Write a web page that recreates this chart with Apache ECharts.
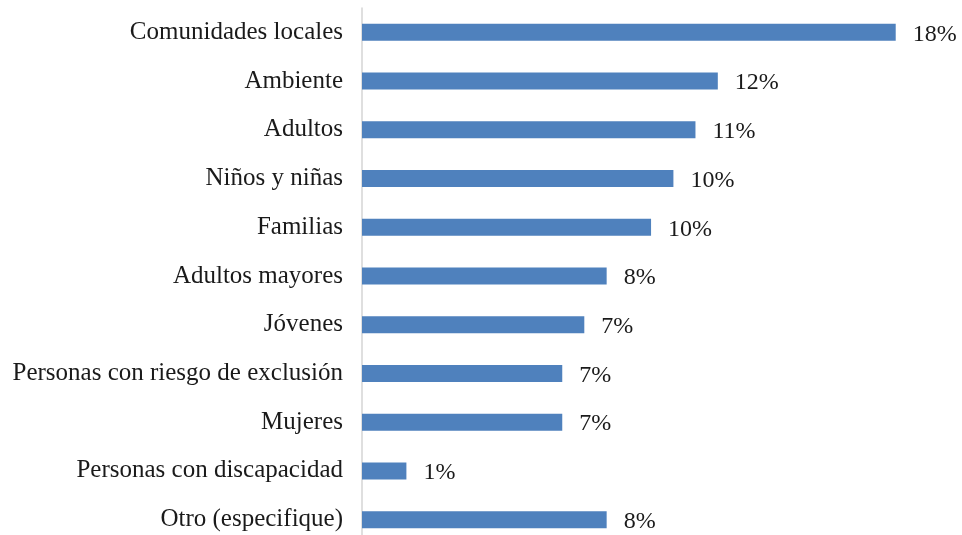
<!DOCTYPE html>
<html>
<head>
<meta charset="utf-8">
<script src="https://cdn.jsdelivr.net/npm/echarts@6/dist/echarts.min.js"></script>
<style>
  html, body { margin: 0; padding: 0; background: #ffffff; overflow: hidden; }
  /* The drawing runs a few pixels past the bottom of the window */
  #chart { width: 962px; height: 544px; }
</style>
</head>
<body>
<div id="chart"></div>
<script>
// Beneficiary groups, top to bottom
const categories = [
  'Comunidades locales',
  'Ambiente',
  'Adultos',
  'Niños y niñas',
  'Familias',
  'Adultos mayores',
  'Jóvenes',
  'Personas con riesgo de exclusión',
  'Mujeres',
  'Personas con discapacidad',
  'Otro (especifique)'
];

// Share of responses, in percent
const shares = [17.91, 11.94, 11.19, 10.45, 9.70, 8.21, 7.46, 6.72, 6.72, 1.49, 8.21];

// Value axis range, in percent
const axisMin = 0;
const axisMax = 20;

const chart = echarts.init(document.getElementById('chart'), null, { renderer: 'canvas' });

const serif = '"Liberation Serif", "DejaVu Serif", serif';

chart.setOption({
  animation: false,
  backgroundColor: '#ffffff',
  grid: {
    left: 362,
    right: 4,
    top: 8,
    bottom: 0,
    containLabel: false
  },
  xAxis: {
    type: 'value',
    min: axisMin,
    max: axisMax,
    show: false
  },
  yAxis: {
    type: 'category',
    data: categories,
    inverse: true,
    axisTick: { show: false },
    axisLine: { show: true, lineStyle: { color: '#d4d4d4', width: 1.5 } },
    axisLabel: {
      margin: 19,
      color: '#1a1a1a',
      fontFamily: serif,
      fontSize: 25,
      padding: [3, 0, 0, 0]
    },
    splitLine: { show: false }
  },
  series: [{
    type: 'bar',
    data: shares,
    barWidth: 17,
    itemStyle: { color: '#4f81bd' },
    label: {
      show: true,
      position: 'right',
      distance: 17,
      offset: [0, 2],
      color: '#1a1a1a',
      fontFamily: serif,
      fontSize: 24,
      formatter: p => Math.round(p.value) + '%'
    }
  }]
});
</script>
</body>
</html>
